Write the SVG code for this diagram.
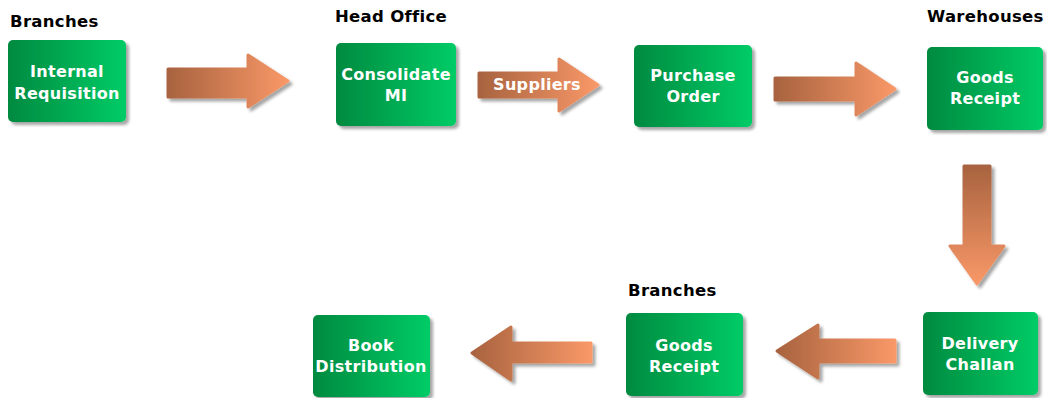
<svg xmlns="http://www.w3.org/2000/svg" width="1047" height="398" viewBox="0 0 1047 398">
<defs>
<linearGradient id="gbox" x1="0" y1="0" x2="1" y2="0">
<stop offset="0" stop-color="#008a40"/>
<stop offset="1" stop-color="#00cc66"/>
</linearGradient>
<linearGradient id="garr" x1="0" y1="0" x2="1" y2="0">
<stop offset="0" stop-color="#a8633f"/>
<stop offset="1" stop-color="#f99868"/>
</linearGradient>
<linearGradient id="garrv" x1="0" y1="0" x2="0" y2="1">
<stop offset="0" stop-color="#a8633f"/>
<stop offset="1" stop-color="#f99868"/>
</linearGradient>
<filter id="sh" x="-10%" y="-10%" width="130%" height="130%">
<feDropShadow dx="3" dy="3" stdDeviation="1.5" flood-color="#000" flood-opacity="0.35"/>
</filter>
</defs>
<style>
.box{fill:url(#gbox);filter:url(#sh)}
.arr{fill:url(#garr);filter:url(#sh);stroke:url(#garr);stroke-width:3;stroke-linejoin:round}
.arrv{fill:url(#garrv);filter:url(#sh);stroke:url(#garrv);stroke-width:3;stroke-linejoin:round}
.t{font-family:"DejaVu Sans",Verdana,sans-serif;font-weight:bold;font-size:16px;letter-spacing:0.3px;fill:#fff;text-anchor:middle}
.h{font-family:"DejaVu Sans",Verdana,sans-serif;font-weight:bold;font-size:16.5px;letter-spacing:0.3px;fill:#000}
</style>
<rect width="1047" height="398" fill="#fff"/>
<g id="labels">
<text class="h" x="10" y="27">Branches</text>
<text class="h" x="335" y="22">Head Office</text>
<text class="h" x="927" y="22">Warehouses</text>
<text class="h" x="628" y="296">Branches</text>
</g>
<g id="connectors">
<path class="arr" d="M168,69 H248 V55 L288,81 L248,107 V97 H168 Z"/>
<path class="arr" d="M479,73 H559 V59 L598,85 L559,111 V97 H479 Z"/>
<path class="arr" d="M775,78 H856 V63 L895,89 L856,115 V100 H775 Z"/>
<path class="arrv" d="M964,166 H990 V246 H1004 L977,284 L950,246 H964 Z"/>
<path class="arr" d="M895,340 H818 V325 L777,351 L818,378 V362 H895 Z"/>
<path class="arr" d="M591,343 H511 V327 L472,353 L511,380 V362 H591 Z"/>
</g>
<g id="n1"><rect class="box" x="8" y="40" width="118" height="82" rx="5"/><text class="t" x="67" y="77">Internal</text><text class="t" x="67" y="99">Requisition</text></g>
<g id="n2"><rect class="box" x="336" y="43" width="120" height="83" rx="5"/><text class="t" x="396" y="80">Consolidate</text><text class="t" x="396" y="101">MI</text></g>
<g id="suppliersLabel"><text class="t" x="537" y="90">Suppliers</text></g>
<g id="n3"><rect class="box" x="634" y="45" width="118" height="82" rx="5"/><text class="t" x="693" y="81">Purchase</text><text class="t" x="693" y="102">Order</text></g>
<g id="n4"><rect class="box" x="927" y="47" width="116" height="83" rx="5"/><text class="t" x="985" y="83">Goods</text><text class="t" x="985" y="104">Receipt</text></g>
<g id="n5"><rect class="box" x="923" y="312" width="115" height="83" rx="5"/><text class="t" x="980" y="349">Delivery</text><text class="t" x="980" y="370">Challan</text></g>
<g id="n6"><rect class="box" x="626" y="313" width="117" height="83" rx="5"/><text class="t" x="684" y="351">Goods</text><text class="t" x="684" y="372">Receipt</text></g>
<g id="n7"><rect class="box" x="313" y="315" width="117" height="82" rx="5"/><text class="t" x="371" y="351">Book</text><text class="t" x="371" y="372">Distribution</text></g>
</svg>
